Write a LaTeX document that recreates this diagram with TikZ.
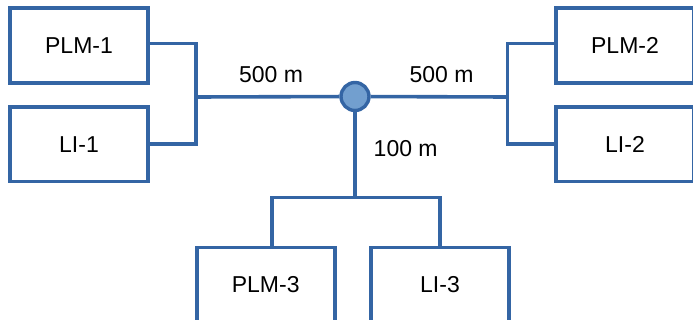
\documentclass[tikz,border=0pt]{standalone}
\usepackage{fontspec}
\setmainfont{Liberation Sans}
\definecolor{wire}{HTML}{3465A4}
\definecolor{hubfill}{HTML}{729FCF}

\begin{document}
\begin{tikzpicture}[x=1pt,y=-1pt]
	\tikzset{box/.style={draw=wire,line width=3.6pt,minimum width=138pt,minimum height=74.5pt,inner sep=0pt,font=\fontsize{23}{27}\selectfont},
		lbl/.style={inner sep=0pt,font=\fontsize{23}{27}\selectfont},
		link/.style={draw=wire,line width=3.6pt}}
	\useasboundingbox (0,0) rectangle (693,320);
	\clip (0,0) rectangle (693,320);
	% devices
	\node[box] (plm1) at (79,45.5) {PLM-1};
	\node[box] (li1) at (79,144.3) {LI-1};
	\node[box] (plm2) at (625,45.5) {PLM-2};
	\node[box] (li2) at (625,144.3) {LI-2};
	\node[box] (plm3) at (265.7,284.8) {PLM-3};
	\node[box] (li3) at (440,284.8) {LI-3};
	% junction
	\node[circle,draw=wire,fill=hubfill,line width=3.4pt,minimum size=28pt,inner sep=0pt] (hub) at (355,96.5) {};
	\coordinate (b1) at (196,97);
	\coordinate (b2) at (507.5,97);
	\coordinate (b3) at (355,197.5);
	\path[link] ([yshift=2pt]plm1.east) -| (b1);
	\path[link] (li1.east) -| (b1);
	\path[link] (b1) -- (hub);
	\path[link] ([yshift=2pt]plm2.west) -| (b2);
	\path[link] (li2.west) -| (b2);
	\path[link] (hub) -- (b2);
	\path[link] (hub) -- (b3);
	\path[link] (b3) -| ([xshift=6pt]plm3.north);
	\path[link] (b3) -| (li3.north);
	% lengths
	\node[lbl] (d1) at (271,75) {500 m};
	\node[lbl] (d2) at (441.5,75) {500 m};
	\node[lbl] (d3) at (405.7,148.5) {100 m};
\end{tikzpicture}
\end{document}
